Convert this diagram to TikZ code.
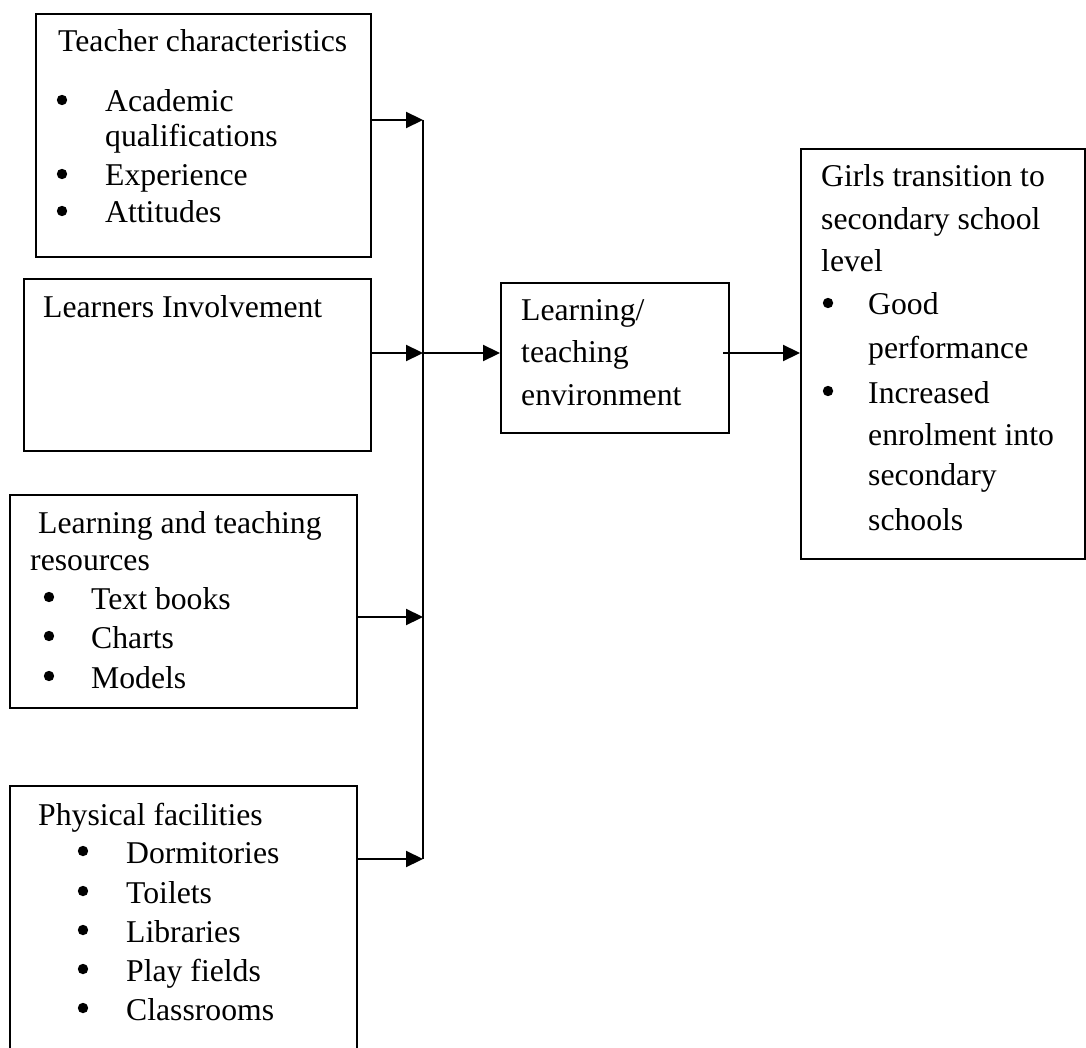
\documentclass[tikz,border=0pt]{standalone}
\usepackage{fontspec}
\setmainfont{Liberation Serif}
\usetikzlibrary{arrows.meta}
\begin{document}
\begin{tikzpicture}[x=1pt,y=-1pt,
  box/.style={draw,line width=2.2pt,inner sep=0pt,anchor=north west},
  txt/.style={anchor=base west,inner sep=0pt,font=\fontsize{31.7}{38}\selectfont},
  conn/.style={line width=2.2pt},
  arr/.style={line width=2.2pt,-{Triangle[length=17pt,width=16pt]}},
  bul/.style={fill=black}]
\useasboundingbox (0,0) rectangle (1086,1048);
% boxes
\node[box,minimum width=335pt,minimum height=243pt] (tc) at (35,13) {};
\node[box,minimum width=347pt,minimum height=172pt] (li) at (23,278) {};
\node[box,minimum width=347pt,minimum height=213pt] (lr) at (9,494) {};
\node[box,minimum width=347pt,minimum height=275pt] (pf) at (9,785) {};
\node[box,minimum width=228pt,minimum height=150pt] (le) at (500,282) {};
\node[box,minimum width=284pt,minimum height=410pt] (gt) at (800,148) {};
% box 1 text
\node[txt] (t1) at (58,52) {Teacher characteristics};
\fill[bul] (62,100) circle (5.2);
\node[txt] (t2) at (105,112) {Academic};
\node[txt] (t3) at (105,147) {qualifications};
\fill[bul] (62,174) circle (5.2);
\node[txt] (t4) at (105,186) {Experience};
\fill[bul] (62,211) circle (5.2);
\node[txt] (t5) at (105,223) {Attitudes};
% box 2 text
\node[txt] (l1) at (43,318) {Learners Involvement};
% box 3 text
\node[txt] (r1) at (38,533) {Learning and teaching};
\node[txt] (r2) at (30,570) {resources};
\fill[bul] (49,597) circle (5.2);
\node[txt] (r3) at (91,609) {Text books};
\fill[bul] (49,636) circle (5.2);
\node[txt] (r4) at (91,648) {Charts};
\fill[bul] (49,676) circle (5.2);
\node[txt] (r5) at (91,688) {Models};
% box 4 text
\node[txt] (p1) at (38,825) {Physical facilities};
\fill[bul] (83,851) circle (5.2);
\node[txt] (p2) at (126,863) {Dormitories};
\fill[bul] (83,891) circle (5.2);
\node[txt] (p3) at (126,903) {Toilets};
\fill[bul] (83,930) circle (5.2);
\node[txt] (p4) at (126,942) {Libraries};
\fill[bul] (83,969) circle (5.2);
\node[txt] (p5) at (126,981) {Play fields};
\fill[bul] (83,1008) circle (5.2);
\node[txt] (p6) at (126,1020) {Classrooms};
% box 5 text
\node[txt] (e1) at (521,320) {Learning/};
\node[txt] (e2) at (521,362) {teaching};
\node[txt] (e3) at (521,405) {environment};
% box 6 text
\node[txt] (g1) at (821,187) {Girls transition to};
\node[txt] (g2) at (821,230) {secondary school};
\node[txt] (g3) at (821,272) {level};
\fill[bul] (828,303) circle (5.2);
\node[txt] (g4) at (868,315) {Good};
\node[txt] (g5) at (868,358) {performance};
\fill[bul] (828,391) circle (5.2);
\node[txt] (g6) at (868,403) {Increased};
\node[txt] (g7) at (868,445) {enrolment into};
\node[txt] (g8) at (868,485) {secondary};
\node[txt] (g9) at (868,530) {schools};
% connectors
\coordinate (j1) at (423,120);
\coordinate (j2) at (423,353);
\coordinate (j3) at (423,617);
\coordinate (j4) at (423,859);
\coordinate (s5) at (723,353);
\draw[conn] (j1) -- (j4);
\draw[arr] (tc.east |- j1) -- (j1);
\draw[arr] (li.east |- j2) -- (j2);
\draw[arr] (lr.east |- j3) -- (j3);
\draw[arr] (pf.east |- j4) -- (j4);
\draw[arr] (j2) -- (le.west |- j2);
\draw[arr] (s5) -- (gt.west |- s5);
\end{tikzpicture}
\end{document}
